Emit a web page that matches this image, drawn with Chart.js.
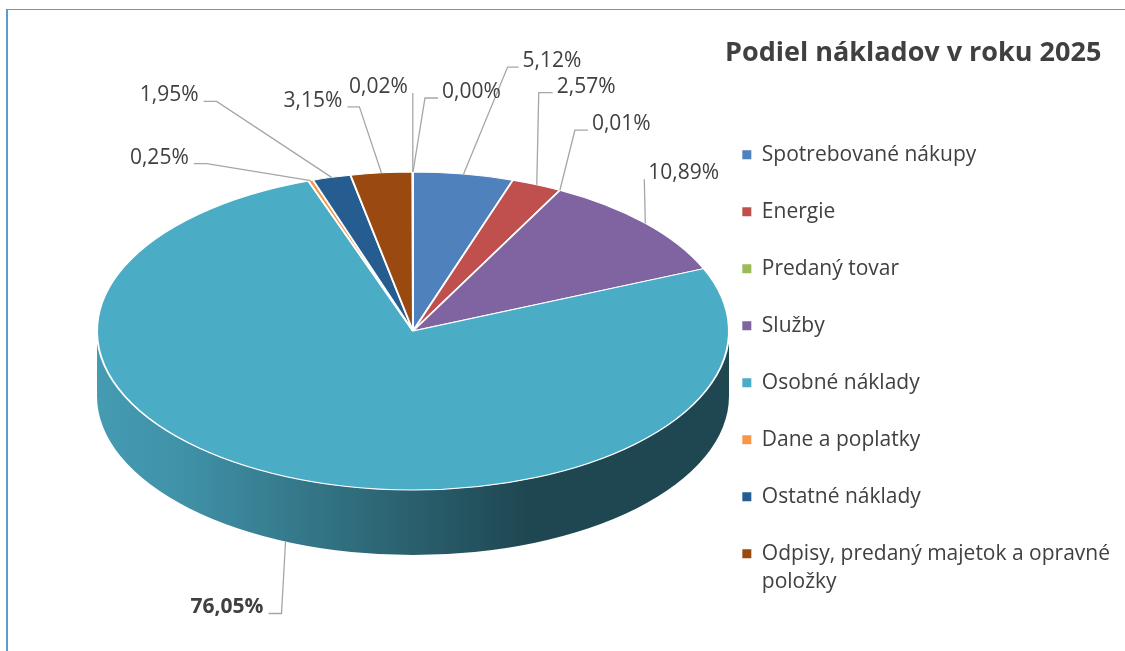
<!DOCTYPE html>
<html>
<head>
<meta charset="utf-8">
<script src="https://cdn.jsdelivr.net/npm/chart.js@4.4.1/dist/chart.umd.min.js"></script>
<style>
  html, body { margin: 0; padding: 0; background: #ffffff; }
  #wrap { position: relative; width: 1125px; height: 651px; overflow: hidden; }
  #frame { position: absolute; left: 6px; top: 9px; right: -5px; bottom: -5px;
           border-top: 1px solid #5B9BD5; border-left: 2px solid #5B9BD5; pointer-events: none; }
  canvas { display: block; }
</style>
</head>
<body>
<div id="wrap">
  <canvas id="chart" width="1125" height="651"></canvas>
  <div id="frame"></div>
</div>
<script>
// ---- data ----
const chartTitle = 'Podiel nákladov v roku 2025';
const categories = [
  'Spotrebované nákupy',
  'Energie',
  'Predaný tovar',
  'Služby',
  'Osobné náklady',
  'Dane a poplatky',
  'Ostatné náklady',
  'Odpisy, predaný majetok a opravné položky',
  '',
  ''
];
const shares = [5.12, 2.57, 0.01, 10.89, 76.05, 0.25, 1.95, 3.15, 0.02, 0.00];
const percentLabels = shares.map(v => v.toFixed(2).replace('.', ',') + '%');
const sliceColors = ['#4F81BD', '#C0504D', '#9BBB59', '#8064A2', '#4BACC6',
                     '#F79646', '#265D90', '#9A4A10', '#77933C', '#5F4B8B'];

// ---- layout / style (not data) ----
const FONT = "'Open Sans', 'DejaVu Sans', sans-serif";
const pieGeom = { cx: 413, cy: 331, rx: 316, ry: 159, depth: 65 };
const labelLayout = [
  { dx: 44,   dy: -107, h: 11, side: 'right' },
  { dx: 2,    dy: -92,  h: 14, side: 'right' },
  { dx: 15,   dy: -60,  h: 13, side: 'right' },
  { dx: -1,   dy: -44,  h: 0,  side: 'right' },
  { dx: -4,   dy: 72,   h: 13, side: 'left', bold: true },
  { dx: -104, dy: -17,  h: 13, side: 'left' },
  { dx: -115, dy: -76,  h: 13, side: 'left' },
  { dx: -22,  dy: -66,  h: 12, side: 'left' },
  { dx: 0,    dy: -79,  h: 0,  side: 'left' },
  { dx: 12,   dy: -74,  h: 13, side: 'right' }
];

function shade(hex, f) {
  const n = parseInt(hex.slice(1), 16);
  const r = Math.round(((n >> 16) & 255) * f);
  const g = Math.round(((n >> 8) & 255) * f);
  const b = Math.round((n & 255) * f);
  return `rgb(${r},${g},${b})`;
}

function drawWall(ctx, g, a, b, color) {
  const grad = ctx.createLinearGradient(g.cx - g.rx, 0, g.cx + g.rx, 0);
  grad.addColorStop(0, shade(color, 0.90));
  grad.addColorStop(0.13, shade(color, 0.85));
  grad.addColorStop(0.68, shade(color, 0.41));
  grad.addColorStop(1, shade(color, 0.41));
  ctx.beginPath();
  ctx.ellipse(g.cx, g.cy, g.rx, g.ry, 0, a, b, false);
  ctx.ellipse(g.cx, g.cy + g.depth, g.rx, g.ry, 0, b, a, true);
  ctx.closePath();
  ctx.fillStyle = grad;
  ctx.fill();
}

const pie3d = {
  id: 'pie3d',
  beforeDatasetsDraw(chart, args, opts) {
    const meta = chart.getDatasetMeta(0);
    if (!meta.data.length) return;
    const g = opts.geom;
    const ctx = chart.ctx;
    const bg = chart.data.datasets[0].backgroundColor;
    meta.data.forEach((arc, i) => {
      const p = arc.getProps(['startAngle', 'endAngle'], true);
      const ranges = [[0, Math.PI], [2 * Math.PI, 3 * Math.PI]];
      for (const [lo, hi] of ranges) {
        const a = Math.max(p.startAngle, lo), b = Math.min(p.endAngle, hi);
        if (b > a) drawWall(ctx, g, a, b, bg[i]);
      }
    });
    const c = meta.data[0].getProps(['x', 'y', 'outerRadius'], true);
    ctx.save();
    ctx.translate(g.cx, g.cy);
    ctx.scale(g.rx / c.outerRadius, g.ry / c.outerRadius);
    ctx.translate(-c.x, -c.y);
  },
  afterDatasetsDraw(chart, args, opts) {
    const ctx = chart.ctx;
    ctx.restore();
    const meta = chart.getDatasetMeta(0);
    const g = opts.geom;
    meta.data.forEach((arc, i) => {
      const L = opts.layout[i];
      if (!L) return;
      const p = arc.getProps(['startAngle', 'endAngle'], true);
      const m = (p.startAngle + p.endAngle) / 2;
      const ax = g.cx + g.rx * Math.cos(m);
      const ay = g.cy + g.ry * Math.sin(m) + (Math.sin(m) > 0 ? g.depth : 0);
      const ex = ax + L.dx, ey = ay + L.dy;
      const tx = L.side === 'right' ? ex + L.h : ex - L.h;
      ctx.save();
      ctx.strokeStyle = '#A6A6A6';
      ctx.lineWidth = 1.3;
      ctx.beginPath();
      ctx.moveTo(ax, ay);
      ctx.lineTo(ex, ey);
      if (L.h) ctx.lineTo(tx, ey);
      ctx.stroke();
      ctx.fillStyle = '#404040';
      ctx.font = (L.bold ? 'bold ' : '') + '21px ' + FONT;
      ctx.textBaseline = 'alphabetic';
      ctx.textAlign = L.side === 'right' ? 'left' : 'right';
      ctx.fillText(opts.texts[i], L.side === 'right' ? tx + 4 : tx - 5, ey);
      ctx.restore();
    });
  }
};

function wrapText(text, font, maxW) {
  const c = document.createElement('canvas').getContext('2d');
  c.font = font;
  const words = text.split(' ');
  const lines = [];
  let cur = '';
  for (const w of words) {
    const t = cur ? cur + ' ' + w : w;
    if (cur && c.measureText(t).width > maxW) { lines.push(cur); cur = w; }
    else cur = t;
  }
  if (cur) lines.push(cur);
  return lines.length > 1 ? lines : (lines[0] || '');
}

const legendFontSize = 21;
const legendFontStr = legendFontSize + 'px ' + FONT;

new Chart(document.getElementById('chart'), {
  type: 'pie',
  data: {
    labels: categories,
    datasets: [{
      data: shares,
      backgroundColor: sliceColors,
      borderColor: '#FFFFFF',
      borderWidth: 2,
      hoverOffset: 0,
      clip: false
    }]
  },
  options: {
    responsive: false,
    devicePixelRatio: 1,
    animation: false,
    events: [],
    layout: { padding: { top: 0, right: 5, bottom: 15, left: 0 } },
    plugins: {
      tooltip: { enabled: false },
      title: { display: false },
      legend: {
        display: true,
        position: 'right',
        align: 'end',
        title: {
          display: true,
          text: chartTitle,
          position: 'center',
          color: '#404040',
          font: { family: FONT, size: 27, weight: 'bold' },
          padding: { top: 0, bottom: 36 }
        },
        labels: {
          color: '#404040',
          font: { family: FONT, size: legendFontSize, lineHeight: 1.35 },
          boxWidth: 9,
          boxHeight: 9,
          padding: 57 - legendFontSize,
          generateLabels(chart) {
            const ds = chart.data.datasets[0];
            const items = [];
            chart.data.labels.forEach((lab, i) => {
              if (!lab) return;
              items.push({
                text: wrapText(lab, legendFontStr, 370),
                fillStyle: ds.backgroundColor[i],
                strokeStyle: ds.backgroundColor[i],
                lineWidth: 0,
                hidden: false,
                index: i,
                fontColor: '#404040'
              });
            });
            return items;
          }
        }
      },
      pie3d: { geom: pieGeom, layout: labelLayout, texts: percentLabels }
    }
  },
  plugins: [pie3d]
});
</script>
</body>
</html>
